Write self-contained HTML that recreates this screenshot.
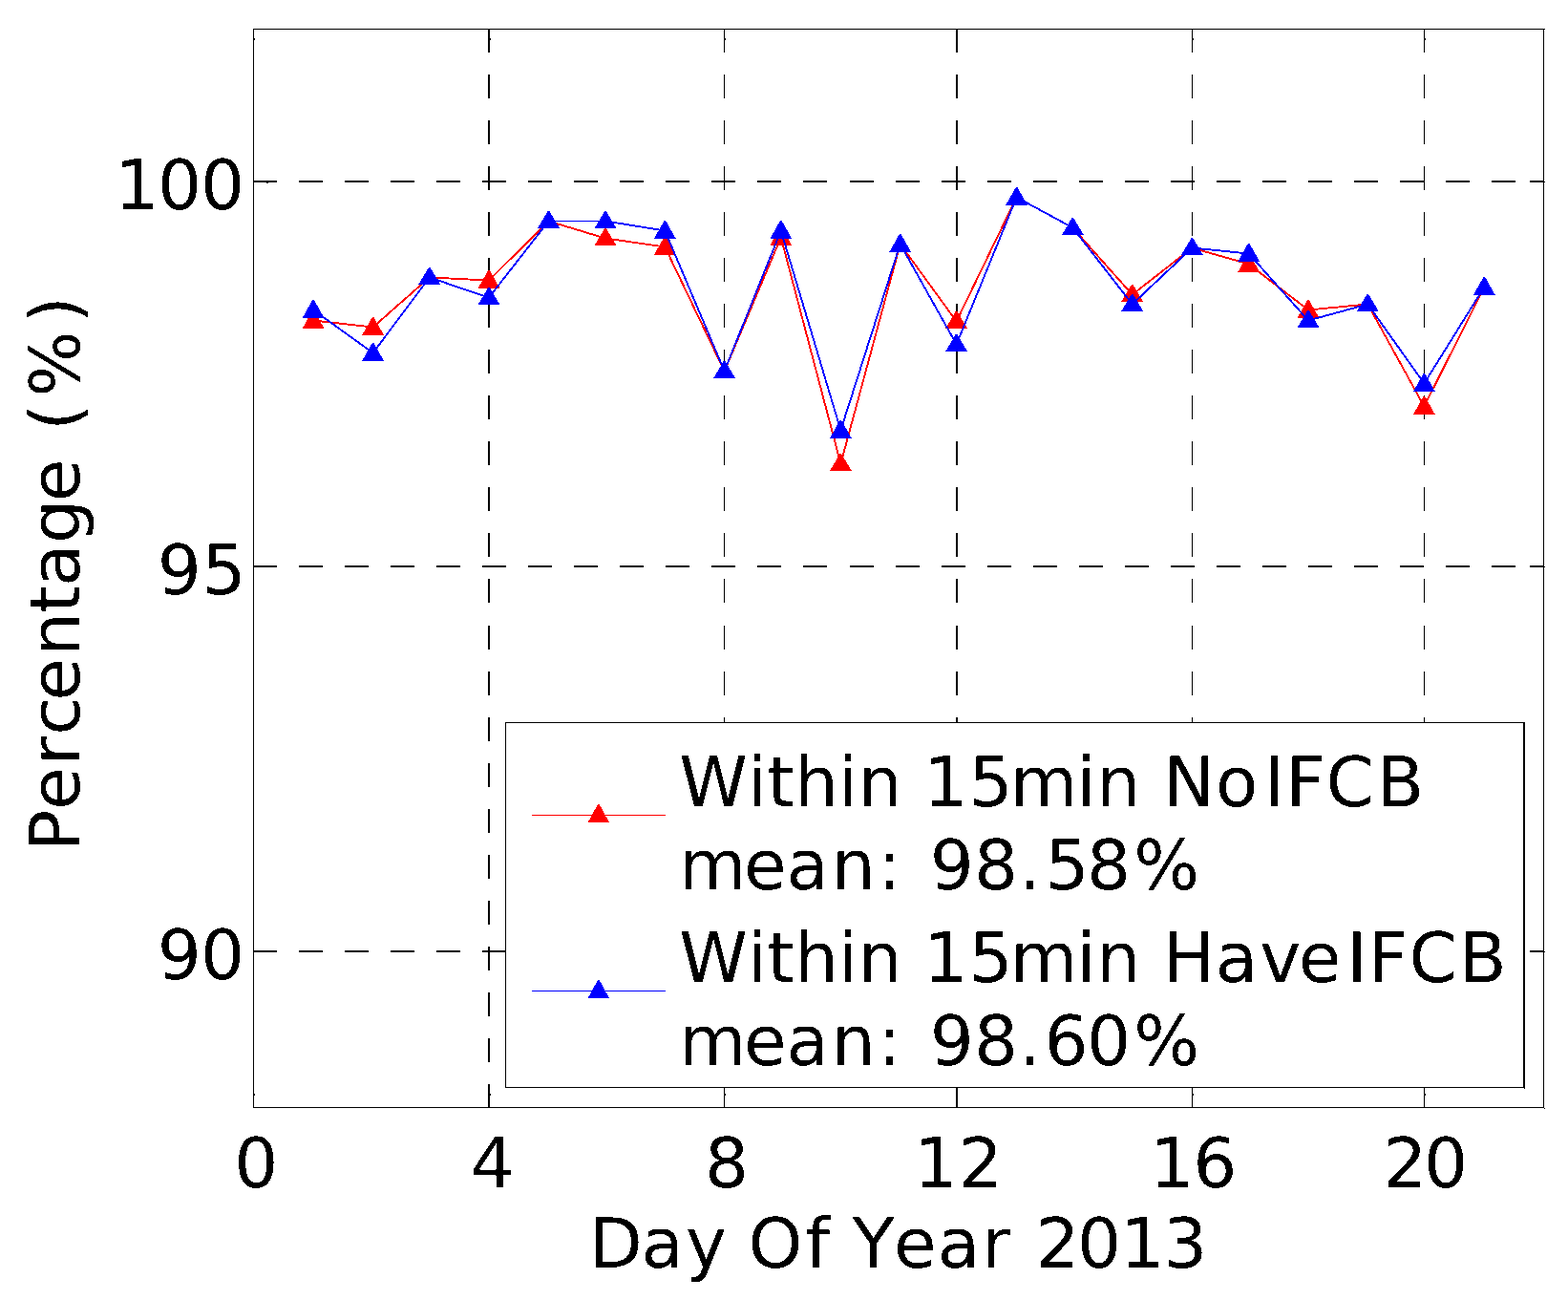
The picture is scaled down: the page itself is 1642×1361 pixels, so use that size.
<!DOCTYPE html>
<html lang="en">
<head>
<meta charset="utf-8">
<title>Percentage (%) by Day Of Year 2013</title>
<style>
html,body{margin:0;padding:0;background:#fff;}
body{width:1642px;height:1361px;overflow:hidden;}
svg{display:block;}
.t text{font-family:"DejaVu Sans", "Liberation Sans", sans-serif;font-size:72.5px;text-rendering:geometricPrecision;white-space:pre;font-kerning:none;font-variant-ligatures:none;}

</style>
</head>
<body>
<svg width="1642" height="1361" viewBox="0 0 1642 1361">
<defs><filter id="bin" filterUnits="userSpaceOnUse" x="0" y="0" width="1642" height="1361" color-interpolation-filters="sRGB"><feComponentTransfer><feFuncA type="discrete" tableValues="0 1"/></feComponentTransfer></filter></defs>
<rect x="0" y="0" width="1642" height="1361" fill="#fff"/>
<g id="grid" fill="#000" shape-rendering="crispEdges">
<rect x="511" y="30" width="2" height="25"/><rect x="511" y="78" width="2" height="25"/><rect x="511" y="126" width="2" height="25"/><rect x="511" y="174" width="2" height="25"/><rect x="511" y="222" width="2" height="25"/><rect x="511" y="270" width="2" height="25"/><rect x="511" y="318" width="2" height="25"/><rect x="511" y="366" width="2" height="25"/><rect x="511" y="414" width="2" height="25"/><rect x="511" y="462" width="2" height="25"/><rect x="511" y="510" width="2" height="25"/><rect x="511" y="558" width="2" height="25"/><rect x="511" y="606" width="2" height="25"/><rect x="511" y="655" width="2" height="25"/><rect x="511" y="703" width="2" height="25"/><rect x="511" y="751" width="2" height="25"/><rect x="511" y="799" width="2" height="25"/><rect x="511" y="847" width="2" height="25"/><rect x="511" y="895" width="2" height="25"/><rect x="511" y="943" width="2" height="25"/><rect x="511" y="991" width="2" height="25"/><rect x="511" y="1039" width="2" height="25"/><rect x="511" y="1087" width="2" height="25"/><rect x="511" y="1135" width="2" height="24"/>
<rect x="758" y="30" width="1" height="25"/><rect x="758" y="78" width="1" height="25"/><rect x="758" y="126" width="1" height="25"/><rect x="758" y="174" width="1" height="25"/><rect x="758" y="222" width="1" height="25"/><rect x="758" y="270" width="1" height="25"/><rect x="758" y="318" width="1" height="25"/><rect x="758" y="366" width="1" height="25"/><rect x="758" y="414" width="1" height="25"/><rect x="758" y="462" width="1" height="25"/><rect x="758" y="510" width="1" height="25"/><rect x="758" y="558" width="1" height="25"/><rect x="758" y="606" width="1" height="25"/><rect x="758" y="655" width="1" height="25"/><rect x="758" y="703" width="1" height="25"/><rect x="758" y="751" width="1" height="25"/><rect x="758" y="799" width="1" height="25"/><rect x="758" y="847" width="1" height="25"/><rect x="758" y="895" width="1" height="25"/><rect x="758" y="943" width="1" height="25"/><rect x="758" y="991" width="1" height="25"/><rect x="758" y="1039" width="1" height="25"/><rect x="758" y="1087" width="1" height="25"/><rect x="758" y="1135" width="1" height="24"/>
<rect x="1001" y="30" width="2" height="25"/><rect x="1001" y="78" width="2" height="25"/><rect x="1001" y="126" width="2" height="25"/><rect x="1001" y="174" width="2" height="25"/><rect x="1001" y="222" width="2" height="25"/><rect x="1001" y="270" width="2" height="25"/><rect x="1001" y="318" width="2" height="25"/><rect x="1001" y="366" width="2" height="25"/><rect x="1001" y="414" width="2" height="25"/><rect x="1001" y="462" width="2" height="25"/><rect x="1001" y="510" width="2" height="25"/><rect x="1001" y="558" width="2" height="25"/><rect x="1001" y="606" width="2" height="25"/><rect x="1001" y="655" width="2" height="25"/><rect x="1001" y="703" width="2" height="25"/><rect x="1001" y="751" width="2" height="25"/><rect x="1001" y="799" width="2" height="25"/><rect x="1001" y="847" width="2" height="25"/><rect x="1001" y="895" width="2" height="25"/><rect x="1001" y="943" width="2" height="25"/><rect x="1001" y="991" width="2" height="25"/><rect x="1001" y="1039" width="2" height="25"/><rect x="1001" y="1087" width="2" height="25"/><rect x="1001" y="1135" width="2" height="24"/>
<rect x="1248" y="30" width="1" height="25"/><rect x="1248" y="78" width="1" height="25"/><rect x="1248" y="126" width="1" height="25"/><rect x="1248" y="174" width="1" height="25"/><rect x="1248" y="222" width="1" height="25"/><rect x="1248" y="270" width="1" height="25"/><rect x="1248" y="318" width="1" height="25"/><rect x="1248" y="366" width="1" height="25"/><rect x="1248" y="414" width="1" height="25"/><rect x="1248" y="462" width="1" height="25"/><rect x="1248" y="510" width="1" height="25"/><rect x="1248" y="558" width="1" height="25"/><rect x="1248" y="606" width="1" height="25"/><rect x="1248" y="655" width="1" height="25"/><rect x="1248" y="703" width="1" height="25"/><rect x="1248" y="751" width="1" height="25"/><rect x="1248" y="799" width="1" height="25"/><rect x="1248" y="847" width="1" height="25"/><rect x="1248" y="895" width="1" height="25"/><rect x="1248" y="943" width="1" height="25"/><rect x="1248" y="991" width="1" height="25"/><rect x="1248" y="1039" width="1" height="25"/><rect x="1248" y="1087" width="1" height="25"/><rect x="1248" y="1135" width="1" height="24"/>
<rect x="1491" y="30" width="1" height="25"/><rect x="1491" y="78" width="1" height="25"/><rect x="1491" y="126" width="1" height="25"/><rect x="1491" y="174" width="1" height="25"/><rect x="1491" y="222" width="1" height="25"/><rect x="1491" y="270" width="1" height="25"/><rect x="1491" y="318" width="1" height="25"/><rect x="1491" y="366" width="1" height="25"/><rect x="1491" y="414" width="1" height="25"/><rect x="1491" y="462" width="1" height="25"/><rect x="1491" y="510" width="1" height="25"/><rect x="1491" y="558" width="1" height="25"/><rect x="1491" y="606" width="1" height="25"/><rect x="1491" y="655" width="1" height="25"/><rect x="1491" y="703" width="1" height="25"/><rect x="1491" y="751" width="1" height="25"/><rect x="1491" y="799" width="1" height="25"/><rect x="1491" y="847" width="1" height="25"/><rect x="1491" y="895" width="1" height="25"/><rect x="1491" y="943" width="1" height="25"/><rect x="1491" y="991" width="1" height="25"/><rect x="1491" y="1039" width="1" height="25"/><rect x="1491" y="1087" width="1" height="25"/><rect x="1491" y="1135" width="1" height="24"/>
<rect x="265" y="189" width="25" height="2"/><rect x="313" y="189" width="25" height="2"/><rect x="361" y="189" width="25" height="2"/><rect x="409" y="189" width="25" height="2"/><rect x="457" y="189" width="25" height="2"/><rect x="505" y="189" width="25" height="2"/><rect x="553" y="189" width="25" height="2"/><rect x="601" y="189" width="25" height="2"/><rect x="649" y="189" width="25" height="2"/><rect x="697" y="189" width="25" height="2"/><rect x="745" y="189" width="25" height="2"/><rect x="793" y="189" width="25" height="2"/><rect x="841" y="189" width="25" height="2"/><rect x="890" y="189" width="25" height="2"/><rect x="938" y="189" width="25" height="2"/><rect x="986" y="189" width="25" height="2"/><rect x="1034" y="189" width="25" height="2"/><rect x="1082" y="189" width="25" height="2"/><rect x="1130" y="189" width="25" height="2"/><rect x="1178" y="189" width="25" height="2"/><rect x="1226" y="189" width="25" height="2"/><rect x="1274" y="189" width="25" height="2"/><rect x="1322" y="189" width="25" height="2"/><rect x="1370" y="189" width="25" height="2"/><rect x="1418" y="189" width="25" height="2"/><rect x="1466" y="189" width="25" height="2"/><rect x="1514" y="189" width="25" height="2"/><rect x="1562" y="189" width="25" height="2"/><rect x="1610" y="189" width="6" height="2"/>
<rect x="265" y="592" width="25" height="2"/><rect x="313" y="592" width="25" height="2"/><rect x="361" y="592" width="25" height="2"/><rect x="409" y="592" width="25" height="2"/><rect x="457" y="592" width="25" height="2"/><rect x="505" y="592" width="25" height="2"/><rect x="553" y="592" width="25" height="2"/><rect x="601" y="592" width="25" height="2"/><rect x="649" y="592" width="25" height="2"/><rect x="697" y="592" width="25" height="2"/><rect x="745" y="592" width="25" height="2"/><rect x="793" y="592" width="25" height="2"/><rect x="841" y="592" width="25" height="2"/><rect x="890" y="592" width="25" height="2"/><rect x="938" y="592" width="25" height="2"/><rect x="986" y="592" width="25" height="2"/><rect x="1034" y="592" width="25" height="2"/><rect x="1082" y="592" width="25" height="2"/><rect x="1130" y="592" width="25" height="2"/><rect x="1178" y="592" width="25" height="2"/><rect x="1226" y="592" width="25" height="2"/><rect x="1274" y="592" width="25" height="2"/><rect x="1322" y="592" width="25" height="2"/><rect x="1370" y="592" width="25" height="2"/><rect x="1418" y="592" width="25" height="2"/><rect x="1466" y="592" width="25" height="2"/><rect x="1514" y="592" width="25" height="2"/><rect x="1562" y="592" width="25" height="2"/><rect x="1610" y="592" width="6" height="2"/>
<rect x="265" y="995" width="25" height="2"/><rect x="313" y="995" width="25" height="2"/><rect x="361" y="995" width="25" height="2"/><rect x="409" y="995" width="25" height="2"/><rect x="457" y="995" width="25" height="2"/><rect x="505" y="995" width="25" height="2"/><rect x="553" y="995" width="25" height="2"/><rect x="601" y="995" width="25" height="2"/><rect x="649" y="995" width="25" height="2"/><rect x="697" y="995" width="25" height="2"/><rect x="745" y="995" width="25" height="2"/><rect x="793" y="995" width="25" height="2"/><rect x="841" y="995" width="25" height="2"/><rect x="890" y="995" width="25" height="2"/><rect x="938" y="995" width="25" height="2"/><rect x="986" y="995" width="25" height="2"/><rect x="1034" y="995" width="25" height="2"/><rect x="1082" y="995" width="25" height="2"/><rect x="1130" y="995" width="25" height="2"/><rect x="1178" y="995" width="25" height="2"/><rect x="1226" y="995" width="25" height="2"/><rect x="1274" y="995" width="25" height="2"/><rect x="1322" y="995" width="25" height="2"/><rect x="1370" y="995" width="25" height="2"/><rect x="1418" y="995" width="25" height="2"/><rect x="1466" y="995" width="25" height="2"/><rect x="1514" y="995" width="25" height="2"/><rect x="1562" y="995" width="25" height="2"/><rect x="1610" y="995" width="6" height="2"/>
</g>
<g id="ticks" fill="#000" shape-rendering="crispEdges">
<rect x="266" y="40" width="1" height="2"/>
<rect x="266" y="1145" width="1" height="2"/>
<rect x="513" y="40" width="1" height="2"/>
<rect x="513" y="1145" width="1" height="2"/>
<rect x="759" y="40" width="1" height="2"/>
<rect x="759" y="1145" width="1" height="2"/>
<rect x="1249" y="40" width="1" height="2"/>
<rect x="1249" y="1145" width="1" height="2"/>
<rect x="1492" y="40" width="1" height="2"/>
<rect x="1492" y="1145" width="1" height="2"/>
<rect x="265" y="189" width="15" height="2"/>
<rect x="279" y="191" width="2" height="1"/>
<rect x="1602" y="189" width="15" height="2"/>
<rect x="1617" y="190" width="1" height="1"/>
<rect x="265" y="592" width="15" height="2"/>
<rect x="1602" y="592" width="15" height="2"/>
<rect x="1617" y="593" width="1" height="1"/>
<rect x="265" y="995" width="15" height="2"/>
<rect x="1602" y="995" width="15" height="2"/>
<rect x="1617" y="996" width="1" height="1"/>
</g>
<g id="axes" fill="#000" shape-rendering="crispEdges">
<rect x="265" y="30" width="1352" height="1"/>
<rect x="265" y="1159" width="1352" height="1"/>
<rect x="265" y="30" width="1" height="1130"/>
<rect x="1616" y="30" width="1" height="1130"/>
<rect x="1617" y="30" width="1" height="1"/>
<rect x="1617" y="1160" width="1" height="1"/>
</g>
<g id="data" shape-rendering="crispEdges">
<g id="series-noifcb"><polyline points="328.1,335.5 390.6,342.5 449.7,290.5 512.0,293.5 574.5,231.5 634.0,249.5 696.3,258.5 758.6,388.5 817.8,248.5 880.4,485.5 942.7,255.5 1001.6,336.5 1064.6,206.5 1123.4,238.5 1185.7,308.5 1248.4,259.5 1307.7,276.5 1370.0,324.5 1432.3,318.5 1491.4,425.5 1554.3,300.5" fill="none" stroke="#ff0000" stroke-width="1.9" stroke-linejoin="round"/><polygon points="327.30,325.00 328.90,325.00 339.60,344.00 316.60,344.00" fill="#ff0000"/><polygon points="389.80,332.00 391.40,332.00 402.10,351.00 379.10,351.00" fill="#ff0000"/><polygon points="448.90,280.00 450.50,280.00 461.20,298.00 438.20,298.00" fill="#ff0000"/><polygon points="511.20,283.00 512.80,283.00 523.50,302.00 500.50,302.00" fill="#ff0000"/><polygon points="573.70,221.00 575.30,221.00 586.00,239.00 563.00,239.00" fill="#ff0000"/><polygon points="633.20,239.00 634.80,239.00 645.50,257.00 622.50,257.00" fill="#ff0000"/><polygon points="695.50,248.00 697.10,248.00 707.80,267.00 684.80,267.00" fill="#ff0000"/><polygon points="757.80,378.00 759.40,378.00 770.10,396.00 747.10,396.00" fill="#ff0000"/><polygon points="817.00,238.00 818.60,238.00 829.30,257.00 806.30,257.00" fill="#ff0000"/><polygon points="879.60,475.00 881.20,475.00 891.90,493.00 868.90,493.00" fill="#ff0000"/><polygon points="941.90,245.00 943.50,245.00 954.20,264.00 931.20,264.00" fill="#ff0000"/><polygon points="1000.80,326.00 1002.40,326.00 1013.10,344.00 990.10,344.00" fill="#ff0000"/><polygon points="1063.80,196.00 1065.40,196.00 1076.10,215.00 1053.10,215.00" fill="#ff0000"/><polygon points="1122.60,228.00 1124.20,228.00 1134.90,246.00 1111.90,246.00" fill="#ff0000"/><polygon points="1184.90,298.00 1186.50,298.00 1197.20,316.00 1174.20,316.00" fill="#ff0000"/><polygon points="1247.60,249.00 1249.20,249.00 1259.90,267.00 1236.90,267.00" fill="#ff0000"/><polygon points="1306.90,266.00 1308.50,266.00 1319.20,285.00 1296.20,285.00" fill="#ff0000"/><polygon points="1369.20,314.00 1370.80,314.00 1381.50,333.00 1358.50,333.00" fill="#ff0000"/><polygon points="1431.50,308.00 1433.10,308.00 1443.80,326.00 1420.80,326.00" fill="#ff0000"/><polygon points="1490.60,415.00 1492.20,415.00 1502.90,434.00 1479.90,434.00" fill="#ff0000"/><polygon points="1553.50,290.00 1555.10,290.00 1565.80,309.00 1542.80,309.00" fill="#ff0000"/></g>
<g id="series-haveifcb"><polyline points="328.1,324.5 390.6,369.5 449.7,290.5 512.0,311.5 574.5,231.5 634.0,231.5 696.3,241.5 758.6,388.5 817.8,241.5 880.4,450.5 942.7,255.5 1001.6,360.5 1064.6,206.5 1123.4,238.5 1185.7,318.5 1248.4,259.5 1307.7,265.5 1370.0,335.5 1432.3,318.5 1491.4,401.5 1554.3,300.5" fill="none" stroke="#0000ff" stroke-width="1.9" stroke-linejoin="round"/><polygon points="327.30,314.00 328.90,314.00 339.60,333.00 316.60,333.00" fill="#0000ff"/><polygon points="389.80,359.00 391.40,359.00 402.10,378.00 379.10,378.00" fill="#0000ff"/><polygon points="448.90,280.00 450.50,280.00 461.20,298.00 438.20,298.00" fill="#0000ff"/><polygon points="511.20,301.00 512.80,301.00 523.50,319.00 500.50,319.00" fill="#0000ff"/><polygon points="573.70,221.00 575.30,221.00 586.00,239.00 563.00,239.00" fill="#0000ff"/><polygon points="633.20,221.00 634.80,221.00 645.50,239.00 622.50,239.00" fill="#0000ff"/><polygon points="695.50,231.00 697.10,231.00 707.80,250.00 684.80,250.00" fill="#0000ff"/><polygon points="757.80,378.00 759.40,378.00 770.10,396.00 747.10,396.00" fill="#0000ff"/><polygon points="817.00,231.00 818.60,231.00 829.30,250.00 806.30,250.00" fill="#0000ff"/><polygon points="879.60,440.00 881.20,440.00 891.90,459.00 868.90,459.00" fill="#0000ff"/><polygon points="941.90,245.00 943.50,245.00 954.20,264.00 931.20,264.00" fill="#0000ff"/><polygon points="1000.80,350.00 1002.40,350.00 1013.10,368.00 990.10,368.00" fill="#0000ff"/><polygon points="1063.80,196.00 1065.40,196.00 1076.10,215.00 1053.10,215.00" fill="#0000ff"/><polygon points="1122.60,228.00 1124.20,228.00 1134.90,246.00 1111.90,246.00" fill="#0000ff"/><polygon points="1184.90,308.00 1186.50,308.00 1197.20,326.00 1174.20,326.00" fill="#0000ff"/><polygon points="1247.60,249.00 1249.20,249.00 1259.90,267.00 1236.90,267.00" fill="#0000ff"/><polygon points="1306.90,255.00 1308.50,255.00 1319.20,274.00 1296.20,274.00" fill="#0000ff"/><polygon points="1369.20,325.00 1370.80,325.00 1381.50,343.00 1358.50,343.00" fill="#0000ff"/><polygon points="1431.50,308.00 1433.10,308.00 1443.80,326.00 1420.80,326.00" fill="#0000ff"/><polygon points="1490.60,391.00 1492.20,391.00 1502.90,410.00 1479.90,410.00" fill="#0000ff"/><polygon points="1553.50,290.00 1555.10,290.00 1565.80,309.00 1542.80,309.00" fill="#0000ff"/></g>
</g>
<g id="legend" shape-rendering="crispEdges">
<rect x="529" y="756" width="1068" height="383" fill="#fff"/>
<rect x="529" y="756" width="1068" height="1"/>
<rect x="529" y="1138" width="1068" height="1"/>
<rect x="529" y="756" width="1" height="383"/>
<rect x="1595" y="756" width="2" height="383"/>
<rect x="1596" y="1139" width="1" height="1"/>
<rect x="557" y="853" width="140" height="1" fill="#ff0000"/>
<polygon points="626.00,842.00 627.60,842.00 638.00,861.00 615.60,861.00" fill="#ff0000"/>
<rect x="557" y="1037" width="140" height="1" fill="#0000ff"/>
<polygon points="626.00,1026.00 627.60,1026.00 638.00,1045.00 615.60,1045.00" fill="#0000ff"/>
</g>
<g id="labels" class="t" fill="#000" filter="url(#bin)">
<text x="711.3 783.1 803.4 832.0 878.1 898.5 944.6 967.3 1014.6 1057.7 1127.6 1148.2 1194.1 1218.3 1272.9 1324.0 1346.3 1388.6 1441.6" y="844.0">Within 15min NoIFCB</text>
<text x="711.1 779.1 823.5 870.8 919.5 943.9 973.8 1020.0 1067.1 1094.5 1138.0 1187.3" y="931.2">mean: 98.58%</text>
<text x="711.3 783.1 803.4 832.0 878.1 898.5 944.6 967.3 1014.6 1057.7 1127.6 1148.2 1194.1 1218.1 1272.8 1319.2 1359.8 1410.2 1432.9 1475.6 1527.9" y="1028.0">Within 15min HaveIFCB</text>
<text x="711.1 779.1 823.5 870.8 919.5 943.9 973.8 1020.0 1067.1 1093.6 1138.0 1187.3" y="1114.7">mean: 98.60%</text>
<text x="120.5 165.0 210.0" y="219.0">100</text>
<text x="164.7 211.6" y="622.4">95</text>
<text x="164.7 210.0" y="1025.2">90</text>
<text x="245.2" y="1243.0">0</text>
<text x="492.4" y="1243.0">4</text>
<text x="738.0" y="1243.0">8</text>
<text x="957.1 1003.8" y="1243.0">12</text>
<text x="1204.3 1249.3" y="1243.0">16</text>
<text x="1448.3 1491.1" y="1243.0">20</text>
<text x="617.1 671.6 718.0 760.9 783.4 843.4 868.9 892.6 936.0 981.7 1028.0 1057.8 1084.4 1127.9 1173.2 1218.2" y="1327.0">Day Of Year 2013</text>
<text transform="translate(83 884.6) rotate(-90)" x="-6.7 36.8 83.6 114.9 151.1 197.8 243.0 270.8 315.8 359.4 404.0 433.8 469.2 546.3" y="0.0">Percentage (%)</text>
</g>
</svg>
</body>
</html>
